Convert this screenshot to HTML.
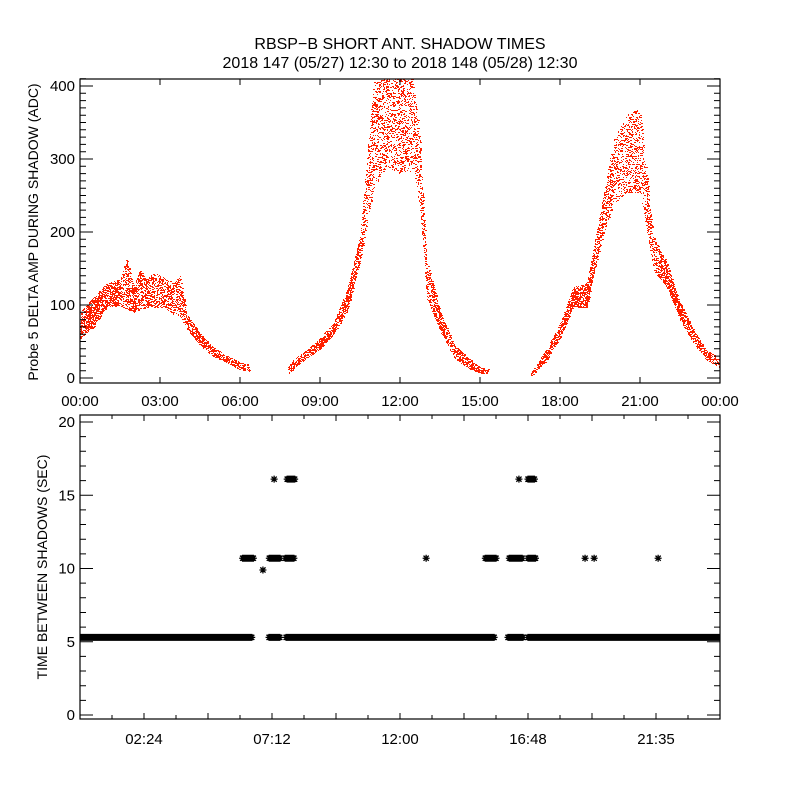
<!DOCTYPE html>
<html><head><meta charset="utf-8"><style>
html,body{margin:0;padding:0;background:#fff}
svg{display:block}
text{font-family:"Liberation Sans",sans-serif;fill:#000}
</style></head><body>
<svg id="s" width="800" height="800" xmlns="http://www.w3.org/2000/svg">
<defs><clipPath id="clipTop"><rect x="80" y="79" width="640" height="304"/></clipPath><clipPath id="clipBot"><rect x="80" y="415" width="640" height="304"/></clipPath></defs>
<rect width="800" height="800" fill="#fff"/>
<text x="400" y="49" font-size="16" text-anchor="middle">RBSP−B SHORT ANT. SHADOW TIMES</text>
<text x="400" y="68" font-size="16" text-anchor="middle">2018 147 (05/27) 12:30 to 2018 148 (05/28) 12:30</text>
<g id="topPanel"></g>
<g id="botPanel"></g>
<text transform="translate(38,232) rotate(-90)" font-size="14" text-anchor="middle">Probe 5 DELTA AMP DURING SHADOW (ADC)</text>
<text transform="translate(47,567) rotate(-90)" font-size="14" text-anchor="middle">TIME BETWEEN SHADOWS (SEC)</text>
</svg>
<script>
// ---- top panel data (hours, lower / upper envelope of ADC values) ----
const ampTimes = [0,0.5,1,1.5,1.75,2,2.25,2.5,2.75,3,3.25,3.5,3.75,4,4.5,5,5.5,6,6.35, 7.8,8,8.5,9,9.5,10,10.5,11,11.5,12,12.5,12.75,13,13.5,14,14.5,15,15.3, 16.9,17,17.5,18,18.5,19,19.5,20,20.5,21,21.5,22,22.5,23,23.5,24];
const ampLow   = [55,70,97,100,95,90,95,97,97,97,95,88,85,68,45,30,22,12,10, 5,12,28,40,60,90,160,260,290,280,285,230,110,65,29,15,7,6, 4,5,25,56,97,97,180,240,255,255,148,125,80,48,25,15];
const ampHigh  = [90,110,130,135,165,125,148,135,145,140,135,130,140,88,60,42,30,22,18, 15,25,38,55,75,120,195,405,410,410,410,330,160,93,48,29,14,12, 8,12,40,75,125,130,226,326,360,370,193,158,103,66,38,25];
const ampGaps  = [[6.35,7.8],[15.3,16.9]];
// ---- bottom panel data ----
const baseValue = 5.3;
const baseSegments = [[0,6.45],[7.09,7.5],[7.73,15.53],[16.05,16.61],[16.8,24]];
const highStart = [6.1,7.1,7.7,6.86,7.28,7.77,12.98,15.2,16.1,16.8,18.94,19.28,21.68,16.46,16.8];
const highEnd   = [6.5,7.5,8.05,6.86,7.28,8.05,12.98,15.6,16.6,17.1,18.94,19.28,21.68,16.46,17.06];
const highVals  = [10.7,10.7,10.7,9.9,16.1,16.1,10.7,10.7,10.7,10.7,10.7,10.7,10.7,16.1,16.1];
const topYTicks = [0,100,200,300,400];
const topXLabels = ["00:00","03:00","06:00","09:00","12:00","15:00","18:00","21:00","00:00"];
const botYTicks = [0,5,10,15,20];
const botXLabels = ["02:24","07:12","12:00","16:48","21:35"];

const NS="http://www.w3.org/2000/svg";
function mk(p,tag,a){const e=document.createElementNS(NS,tag);for(const k in a)e.setAttribute(k,a[k]);p.appendChild(e);return e;}
const L=80,R=720;
const xs=t=>L+(t/24)*(R-L);
const T1=79,B1=383, ty=v=>378-(v/400)*292;
const T2=415,B2=719, by=v=>715-(v/20)*293;

const topG=document.getElementById('topPanel');
let d="";
function interp(t,arr){for(let i=0;i<ampTimes.length-1;i++){if(t>=ampTimes[i]&&t<=ampTimes[i+1]){const f=(t-ampTimes[i])/((ampTimes[i+1]-ampTimes[i])||1);return arr[i]+f*(arr[i+1]-arr[i]);}}return null;}
for(let x=L;x<R;x++){
  const t=(x-L)/(R-L)*24;
  if(ampGaps.some(g=>t>g[0]&&t<g[1]))continue;
  const lo=interp(t,ampLow),hi=interp(t,ampHigh);
  if(lo===null)continue;
  const y1=Math.max(T1,Math.round(ty(hi))),y2=Math.round(ty(lo));
  const dens=(hi-lo)>80?0.25:((hi-lo)>40?0.4:0.6);
  for(let y=y1;y<=y2;y++){
    const h=((x*73856093)^(y*19349663))>>>0;
    if((h%1000)/1000<dens)d+="M"+x+" "+y+"h"+((h%3==0)?2:1)+"v1h-"+((h%3==0)?2:1)+"z";
  }
}
const sc=mk(topG,'path',{d:d,fill:'#ff2000','clip-path':'url(#clipTop)'});


const f1=mk(topG,'rect',{x:L,y:T1,width:R-L,height:B1-T1,fill:'none',stroke:'#000','stroke-width':1.2});


let tk="";
for(let v=0;v<=410;v+=10){const y=ty(v);const len=(v%100==0)?13:6;tk+=`M${L} ${y}h${len}M${R} ${y}h-${len}`;}
topXLabels.forEach((s,i)=>{const x=xs(i*3);tk+=`M${x} ${B1}v-6M${x} ${T1}v6`;});
const tp=mk(topG,'path',{d:tk,stroke:'#000','stroke-width':1,fill:'none'});


topYTicks.forEach(v=>{const e=mk(topG,'text',{x:75,y:ty(v)+5,'font-size':15,'text-anchor':'end'});e.textContent=v;

});
topXLabels.forEach((s,i)=>{const e=mk(topG,'text',{x:xs(i*3),y:406,'font-size':15,'text-anchor':'middle'});e.textContent=s;

});

const botG=document.getElementById('botPanel');
let ad="";
function star(x,y){const r=3.5,q=2.6;ad+=`M${x-r} ${y}h${2*r}M${x} ${y-r}v${2*r}M${x-q} ${y-q}l${2*q} ${2*q}M${x-q} ${y+q}l${2*q} ${-2*q}`;}
baseSegments.forEach(s=>{for(let t=s[0];t<=s[1]+1e-6;t+=0.04)star(xs(t),by(baseValue));});
highVals.forEach((v,i)=>{for(let t=highStart[i];t<=highEnd[i]+1e-6;t+=0.04)star(xs(t),by(v));});
const st=mk(botG,'path',{d:ad,stroke:'#000','stroke-width':1.3,fill:'none','clip-path':'url(#clipBot)'});


const f2=mk(botG,'rect',{x:L,y:T2,width:R-L,height:B2-T2,fill:'none',stroke:'#000','stroke-width':1.2});


let tk2="";
for(let v=0;v<=20;v++){const y=by(v);const len=(v%5==0)?13:6;tk2+=`M${L} ${y}h${len}M${R} ${y}h-${len}`;}
for(let t=0;t<=24.01;t+=1.2){const x=xs(t);const big=Math.round(t/1.2)%2==0;const len=big?6:4;tk2+=`M${x} ${B2}v-${len}M${x} ${T2}v${len}`;}
const tp2=mk(botG,'path',{d:tk2,stroke:'#000','stroke-width':1,fill:'none'});


botYTicks.forEach(v=>{const e=mk(botG,'text',{x:75,y:by(v)+5,'font-size':15,'text-anchor':'end'});e.textContent=v;

});
botXLabels.forEach((s,i)=>{const e=mk(botG,'text',{x:xs(2.4+i*4.8),y:744,'font-size':15,'text-anchor':'middle'});e.textContent=s;

});
</script>
</body></html>
